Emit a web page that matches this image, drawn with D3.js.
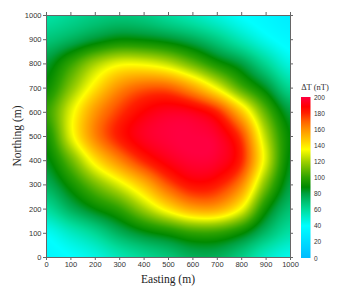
<!DOCTYPE html>
<html><head><meta charset="utf-8">
<script src="https://cdn.jsdelivr.net/npm/d3@7"></script>
<style>
html,body{margin:0;padding:0;background:#fff;}
svg{display:block;}
</style></head>
<body>
<svg id="chart" width="339" height="296"></svg>
<script>
// ---- data ----
const eastings = [0,100,200,300,400,500,600,700,800,900,1000];
const northings = [1000,900,800,700,600,500,400,300,200,100,0];
const deltaT = [
  [58, 62, 66, 68, 66, 60, 54, 47, 40, 35, 30],
  [68, 74, 82, 88, 87, 83, 76, 66, 54, 43, 36],
  [82, 100,120,132,132,125,110, 93, 80, 62, 46],
  [90, 115,140,160,170,170,156,133,105, 84, 62],
  [100,130,158,176,188,194,192,180,148,108, 80],
  [92, 130,162,182,194,199,200,196,175,124, 88],
  [85, 110,140,162,180,192,198,196,180,130, 86],
  [75, 92, 112,130,150,172,185,182,162,114, 80],
  [60, 75, 88, 100,120,140,155,155,134, 92, 70],
  [42, 52, 62, 75, 85, 92, 100,100, 90, 72, 58],
  [36, 40, 46, 55, 62, 68, 75, 75, 66, 52, 44]
];
const colorStops = [0, 20, 40, 60, 70, 80, 88, 100, 110, 120, 135, 145, 160, 170, 180, 188, 200];
const colorHex = ["#00bbff","#00dcff","#00ffff","#00dc9c","#00c070","#00a040","#008a00","#2ea200",
                  "#66b800","#a0d000","#ffff00","#ffd000","#ff9000","#ff6000","#ff2000","#ff0000","#ff0040"];
const xTicks = [0,100,200,300,400,500,600,700,800,900,1000];
const yTicks = [0,100,200,300,400,500,600,700,800,900,1000];
const cbTicks = [0,20,40,60,80,100,120,140,160,180,200];

// ---- layout ----
const L = 46, R = 290, T = 15, B = 257;
const x = d3.scaleLinear().domain([0,1000]).range([L,R]);
const y = d3.scaleLinear().domain([0,1000]).range([B,T]);
const color = d3.scaleLinear().domain(colorStops).range(colorHex).clamp(true);

const svg = d3.select("#chart");

// ---- heatmap via bicubic (Catmull-Rom) sampling of the grid ----
const nr = northings.length, nc = eastings.length;
function g(r,c){ r=Math.max(0,Math.min(nr-1,r)); c=Math.max(0,Math.min(nc-1,c)); return deltaT[r][c]; }
function cr(p0,p1,p2,p3,t){
  return p1 + 0.5*t*(p2-p0 + t*(2*p0-5*p1+4*p2-p3 + t*(3*(p1-p2)+p3-p0)));
}
const dE = eastings[1]-eastings[0];
const dN = northings[0]-northings[1];
function sample(E,N){
  const fc = (E-eastings[0])/dE, fr = (northings[0]-N)/dN;
  const c = Math.min(nc-2, Math.max(0, Math.floor(fc))), r = Math.min(nr-2, Math.max(0, Math.floor(fr)));
  const tc = fc-c, tr = fr-r;
  const rows = [];
  for(let k=-1;k<=2;k++){
    rows.push(cr(g(r+k,c-1),g(r+k,c),g(r+k,c+1),g(r+k,c+2),tc));
  }
  return cr(rows[0],rows[1],rows[2],rows[3],tr);
}
const W = R-L, H = B-T;
const cv = document.createElement("canvas");
cv.width = W; cv.height = H;
const ctx = cv.getContext("2d");
const img = ctx.createImageData(W,H);
for(let py=0;py<H;py++){
  for(let px=0;px<W;px++){
    const E = x.invert(L+px+0.5), N = y.invert(T+py+0.5);
    const c = d3.rgb(color(sample(E,N)));
    const i = (py*W+px)*4;
    img.data[i]=c.r; img.data[i+1]=c.g; img.data[i+2]=c.b; img.data[i+3]=255;
  }
}
ctx.putImageData(img,0,0);
svg.append("image").attr("x",L).attr("y",T).attr("width",W).attr("height",H)
  .attr("preserveAspectRatio","none").attr("href",cv.toDataURL());

// ---- axes ----
const axCol = "#666";
const fontTick = "'Liberation Sans', Arial, sans-serif";
const fontSerif = "'Liberation Serif', 'Times New Roman', serif";
function styleAxis(gsel, showLabels){
  gsel.select(".domain").attr("stroke",axCol).attr("stroke-width",1);
  gsel.selectAll(".tick line").attr("stroke",axCol);
  gsel.selectAll(".tick text").attr("fill","#333").attr("font-size","7.5px").attr("font-family",fontTick);
  if(!showLabels) gsel.selectAll(".tick text").remove();
}
const gx = svg.append("g").attr("transform",`translate(0,${B})`)
  .call(d3.axisBottom(x).tickValues(xTicks).tickSize(3).tickSizeOuter(3).tickPadding(2).tickFormat(d3.format("d")));
styleAxis(gx,true);
const gy = svg.append("g").attr("transform",`translate(${L},0)`)
  .call(d3.axisLeft(y).tickValues(yTicks).tickSize(3).tickSizeOuter(3).tickPadding(1.5).tickFormat(d3.format("d")));
styleAxis(gy,true);
const gt = svg.append("g").attr("transform",`translate(0,${T})`)
  .call(d3.axisTop(x).tickValues(xTicks).tickSize(3).tickSizeOuter(0));
styleAxis(gt,false);
const gr = svg.append("g").attr("transform",`translate(${R},0)`)
  .call(d3.axisRight(y).tickValues(yTicks).tickSize(3).tickSizeOuter(0));
styleAxis(gr,false);

// axis titles
svg.append("text").attr("x",(L+R)/2).attr("y",283).attr("text-anchor","middle")
  .attr("font-family",fontSerif).attr("font-size","11.5px").attr("fill","#222")
  .text("Easting (m)");
svg.append("text").attr("transform",`translate(21,${(T+B)/2}) rotate(-90)`).attr("text-anchor","middle")
  .attr("font-family",fontSerif).attr("font-size","11.5px").attr("fill","#222")
  .text("Northing (m)");

// ---- colour bar ----
const cbX = 301, cbW = 9.5, cbTop = 97, cbBot = 258;
const cy = d3.scaleLinear().domain([0,200]).range([cbBot,cbTop]);
const defs = svg.append("defs");
const grad = defs.append("linearGradient").attr("id","cbgrad").attr("x1",0).attr("y1",1).attr("x2",0).attr("y2",0);
grad.selectAll("stop").data(colorStops).enter().append("stop")
  .attr("offset",d=>d/200).attr("stop-color",(d,i)=>colorHex[i]);
svg.append("rect").attr("x",cbX).attr("y",cbTop).attr("width",cbW).attr("height",cbBot-cbTop).attr("fill","url(#cbgrad)");
const gcb = svg.append("g").attr("transform",`translate(${cbX+cbW},0)`)
  .call(d3.axisRight(cy).tickValues(cbTicks).tickSize(0).tickPadding(3.5));
gcb.select(".domain").remove();
gcb.selectAll(".tick text").attr("fill","#333").attr("font-size","6.5px").attr("font-family",fontTick);
svg.append("text").attr("x",315).attr("y",90).attr("text-anchor","middle")
  .attr("font-family",fontSerif).attr("font-size","8.5px").attr("fill","#333")
  .text("ΔT (nT)");
</script>
</body></html>
